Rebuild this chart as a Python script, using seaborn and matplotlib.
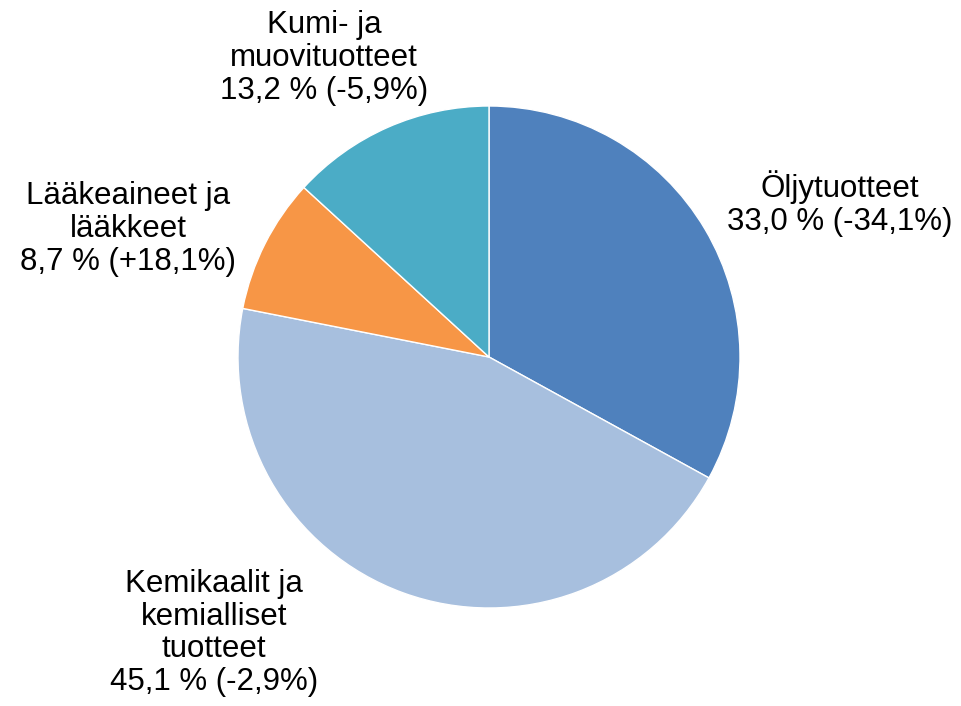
import matplotlib.pyplot as plt
import seaborn as sns

# Osuudet (%), muutokset suluissa
categories = ['Öljytuotteet', 'Kemikaalit ja\nkemialliset\ntuotteet',
              'Lääkeaineet ja\nlääkkeet', 'Kumi- ja\nmuovituotteet']
shares = [33.0, 45.1, 8.7, 13.2]
share_labels = ['33,0 %', '45,1 %', '8,7 %', '13,2 %']
changes = ['(-34,1%)', '(-2,9%)', '(+18,1%)', '(-5,9%)']
colors = ['#4F81BD', '#A7BFDE', '#F79646', '#4BACC6']

sns.set_theme(style='white')
plt.rcParams['font.family'] = ['Liberation Sans', 'DejaVu Sans']

fig = plt.figure(figsize=(9.61, 7.06), dpi=100)
ax = fig.add_axes([0, 0, 1, 1])

ax.pie(shares, colors=colors, startangle=90, counterclock=False,
       center=(489, 349), radius=251,
       wedgeprops=dict(edgecolor='white', linewidth=1))

# pie() resets the limits, so set the pixel-like frame afterwards
ax.set_xlim(0, 961)
ax.set_ylim(0, 706)
ax.set_aspect('equal')
ax.axis('off')

# label positions (pixel layout, y from bottom)
label_pos = [(840, 502), (214, 73), (128, 477), (324, 648)]
for cat, s, ch, (x, y) in zip(categories, share_labels, changes, label_pos):
    ax.text(x, y, f'{cat}\n{s} {ch}', ha='center', va='center',
            multialignment='center', fontsize=22.5, color='black',
            linespacing=1.13)

fig.savefig('out.png', dpi=100)
